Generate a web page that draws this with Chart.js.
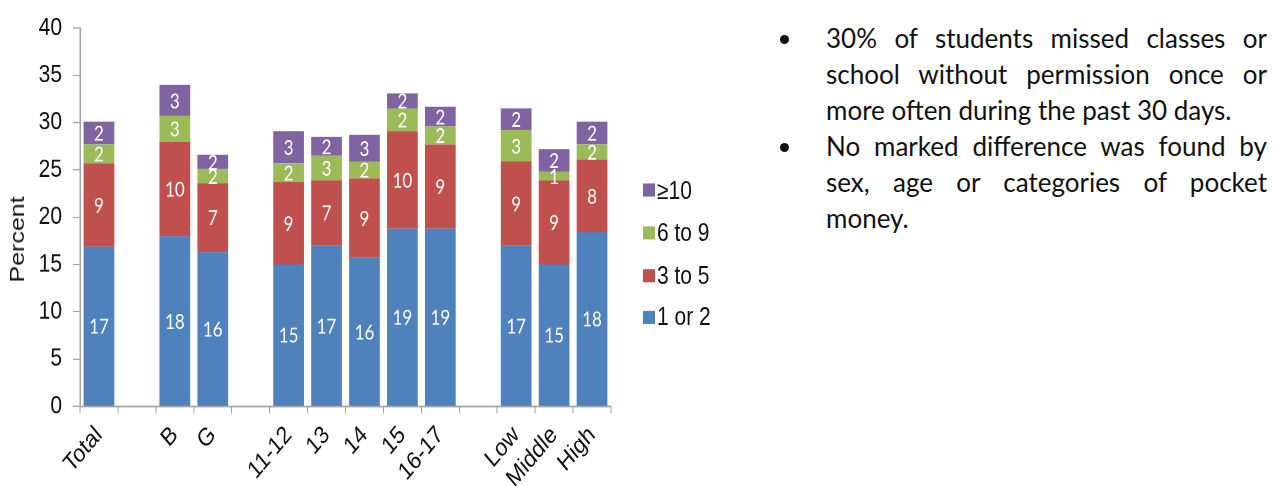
<!DOCTYPE html>
<html>
<head>
<meta charset="utf-8">
<script src="https://cdn.jsdelivr.net/npm/chart.js@4"></script>
<style>
html,body{margin:0;padding:0;background:#fff;width:1283px;height:486px;overflow:hidden;position:relative}
#wrap{position:absolute;left:0;top:0;width:780px;height:408px;transform:scaleY(1.1912);transform-origin:0 0}
#c{position:absolute;left:0;top:0}
#ytitle{position:absolute;left:17px;top:201px;transform:translate(-50%,-50%) rotate(-90deg);font:21px 'Liberation Sans',Arial,sans-serif;color:#111;white-space:nowrap}
#legend{position:absolute;left:643px;top:0}
.li{position:absolute;left:0;display:flex;align-items:center;white-space:nowrap;font:21px 'Liberation Sans',Arial,sans-serif;color:#111;transform:translateY(-50%)}
.sw{width:12px;height:11px;margin-right:2px;flex:none}
#notes{position:absolute;left:0;top:0;font-family:Lato,'Open Sans',sans-serif;color:#111}
.ln{position:absolute;left:826px;width:441px;height:36px;line-height:36px;white-space:nowrap}
.just{text-align:justify;text-align-last:justify;white-space:normal}
.bul{position:absolute;width:0;height:0;}
.bul span{position:absolute;left:-4.5px;top:-4.5px;width:9px;height:9px;border-radius:50%;background:#111;font-size:0;color:transparent}
</style>
</head>
<body>
<div id="wrap">
  <canvas id="c" width="640" height="408"></canvas>
  <div id="ytitle">Percent</div>
  <div id="legend"></div>
</div>
<div id="notes"></div>
<script>
// ---- data ----
const categories = ["Total", "", "B", "G", "", "11-12", "13", "14", "15", "16-17", "", "Low", "Middle", "High"];
const oneOrTwo   = [16.9, null, 18.0, 16.3, null, 15.0, 17.0, 15.7, 18.8, 18.8, null, 17.0, 15.0, 18.4];
const threeToFive= [ 8.8, null, 10.0,  7.3, null,  8.7,  6.9,  8.4, 10.3,  8.9, null,  8.9,  8.9,  7.7];
const sixToNine  = [ 2.0, null,  2.7,  1.5, null,  2.0,  2.6,  1.8,  2.4,  1.9, null,  3.3,  0.9,  1.6];
const tenPlus    = [ 2.4, null,  3.3,  1.5, null,  3.4,  2.0,  2.8,  1.6,  2.1, null,  2.3,  2.4,  2.4];
// printed (rounded) segment labels
const lblOneOrTwo    = [17, null, 18, 16, null, 15, 17, 16, 19, 19, null, 17, 15, 18];
const lblThreeToFive = [ 9, null, 10,  7, null,  9,  7,  9, 10,  9, null,  9,  9,  8];
const lblSixToNine   = [ 2, null,  3,  2, null,  2,  3,  2,  2,  2, null,  3,  1,  2];
const lblTenPlus     = [ 2, null,  3,  2, null,  3,  2,  3,  2,  2, null,  2,  2,  2];
const seriesNames = ["1 or 2", "3 to 5", "6 to 9", "\u226510"];
const yTicks = [0, 5, 10, 15, 20, 25, 30, 35, 40];

const noteLines = [
  {t: "30% of students missed classes or", j: true, b: true},
  {t: "school without permission once or", j: true},
  {t: "more often during the past 30 days.", j: false},
  {t: "No marked difference was found by", j: true, b: true},
  {t: "sex, age or categories of pocket", j: true},
  {t: "money.", j: false}
];

const colors = ["#4F81BD", "#C0504D", "#9BBB59", "#8064A2"];
const values = [oneOrTwo, threeToFive, sixToNine, tenPlus];
const labels = [lblOneOrTwo, lblThreeToFive, lblSixToNine, lblTenPlus];

const axisColor = "#a3a3a3";
const tickFont = {family: "'Liberation Sans', Arial, sans-serif", size: 21};

const segLabelPlugin = {
  id: 'segLabels',
  afterDatasetsDraw(chart) {
    const ctx = chart.ctx;
    ctx.save();
    ctx.fillStyle = '#ffffff';
    ctx.font = "17px Lato, 'Open Sans', sans-serif";
    ctx.textAlign = 'center';
    ctx.textBaseline = 'middle';
    chart.data.datasets.forEach((ds, i) => {
      const meta = chart.getDatasetMeta(i);
      meta.data.forEach((el, j) => {
        const t = ds.segLabels[j];
        if (t == null || ds.data[j] == null) return;
        ctx.fillText(String(t), el.x, (el.y + el.base) / 2 + 1);
      });
    });
    ctx.restore();
  }
};

const chart = new Chart(document.getElementById('c'), {
  type: 'bar',
  data: {
    labels: categories,
    datasets: values.map((v, i) => ({
      label: seriesNames[i],
      data: v,
      segLabels: labels[i],
      backgroundColor: colors[i],
      borderWidth: 0,
      categoryPercentage: 1.0,
      barPercentage: 0.81
    }))
  },
  options: {
    responsive: false,
    animation: false,
    devicePixelRatio: 2,
    layout: {padding: {left: 0, right: 29, top: 18, bottom: 0}},
    plugins: {legend: {display: false}, tooltip: {enabled: false}},
    scales: {
      x: {
        stacked: true,
        grid: {display: true, drawOnChartArea: false, drawTicks: true, tickLength: 6, color: axisColor, offset: true},
        border: {color: axisColor, width: 1.5},
        ticks: {autoSkip: false, minRotation: 45, maxRotation: 45, padding: 6, color: '#111', font: tickFont},
        afterFit: s => { s.height = 67; }
      },
      y: {
        stacked: true,
        min: 0, max: 40,
        afterBuildTicks: s => { s.ticks = yTicks.map(v => ({value: v})); },
        grid: {display: true, drawOnChartArea: false, drawTicks: true, tickLength: 7, color: axisColor},
        border: {color: axisColor, width: 1.5},
        ticks: {padding: 11, color: '#111', font: tickFont},
        afterFit: s => { s.width = 80; }
      }
    }
  },
  plugins: [segLabelPlugin]
});

// legend (reverse order, like the reference)
const legendY = [159.5, 195, 231, 266];
const leg = document.getElementById('legend');
chart.data.datasets.slice().reverse().forEach((ds, k) => {
  const d = document.createElement('div');
  d.className = 'li';
  d.style.top = legendY[k] + 'px';
  const sw = document.createElement('span');
  sw.className = 'sw';
  sw.style.background = ds.backgroundColor;
  const tx = document.createElement('span');
  tx.textContent = ds.label;
  d.appendChild(sw); d.appendChild(tx);
  leg.appendChild(d);
});

// notes text
const mc = document.createElement('canvas').getContext('2d');
mc.font = "24px Lato";
const w24 = mc.measureText(noteLines[2].t).width;
const fs = Math.min(26, 24 * 424 / w24);
const notes = document.getElementById('notes');
notes.style.fontSize = fs.toFixed(2) + 'px';
noteLines.forEach((ln, i) => {
  const top = 20 + i * 36;
  const d = document.createElement('div');
  d.className = 'ln' + (ln.j ? ' just' : '');
  d.style.top = top + 'px';
  d.textContent = ln.t;
  notes.appendChild(d);
  if (ln.b) {
    const b = document.createElement('div');
    b.className = 'bul';
    b.style.left = '784px';
    b.style.top = (top + 19) + 'px';
    const s = document.createElement('span');
    s.textContent = '\u2022';
    b.appendChild(s);
    notes.appendChild(b);
  }
});
</script>
</body>
</html>
